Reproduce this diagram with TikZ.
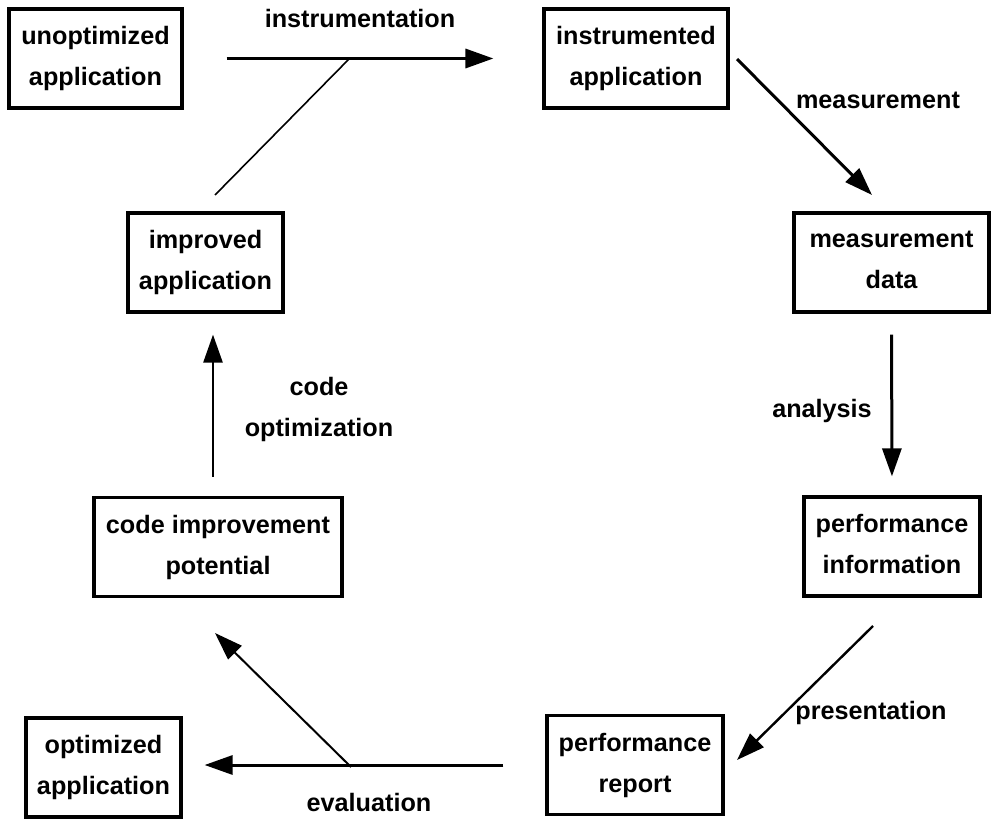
\documentclass[tikz,border=0pt]{standalone}
\usepackage{fontspec}
\setmainfont{Liberation Sans}
\usetikzlibrary{arrows.meta}

\tikzset{
	stage/.style={draw, line width=3.2pt, align=center, inner sep=0pt,
		font=\bfseries\fontsize{25.2}{41}\selectfont,
		execute at begin node={\rule{0pt}{34pt}},
		execute at end node={\rule[-5pt]{0pt}{5pt}}},
	flow/.style={line width=3pt, -{Triangle[length=28pt,width=19pt]}},
	thinflow/.style={line width=2pt, -{Triangle[length=28pt,width=19pt]}},
	feed/.style={line width=1.6pt},
	lbl/.style={font=\bfseries\fontsize{25.2}{41}\selectfont, inner sep=0pt}
}

\begin{document}
\begin{tikzpicture}[x=1pt,y=-1pt]
			\useasboundingbox (0,0) rectangle (995,826);
			% the stages of the cycle
			\node[stage, minimum width=173pt, minimum height=99pt] (unopt) at (95.5,58.5) {unoptimized\\application};
			\node[stage, minimum width=184pt, minimum height=99pt] (instr) at (636,58.5) {instrumented\\application};
			\node[stage, minimum width=195pt, minimum height=99pt] (measdata) at (891.5,262.5) {measurement\\data};
			\node[stage, minimum width=176pt, minimum height=99pt] (perfinfo) at (892,546.5) {performance\\information};
			\node[stage, minimum width=176pt, minimum height=99pt] (perfreport) at (635,765) {performance\\report};
			\node[stage, minimum width=155pt, minimum height=99pt] (optapp) at (103.5,767.5) {optimized\\application};
			\node[stage, minimum width=248pt, minimum height=99pt] (codeimp) at (218,547) {code improvement\\potential};
			\node[stage, minimum width=155pt, minimum height=99pt] (impapp) at (205.5,262.5) {improved\\application};

			% free ends of the slanted connectors
			\coordinate (joinin) at (350,58);
			\coordinate (feedstart) at (215,195);
			\coordinate (measstart) at (737,59);
			\coordinate (measend) at (872,195);
			\coordinate (presstart) at (873,626);
			\coordinate (presend) at (737,760);
			\coordinate (evaljoin) at (351,767);
			\coordinate (evalend) at (215,633);

			\draw[flow, line width=3.4pt, shorten <=43pt, shorten >=49pt] (unopt.east) -- (instr.west);
			\draw[feed] (feedstart) -- (joinin);
			\draw[flow] (measstart) -- (measend);
			\draw[flow, shorten <=21pt, shorten >=19pt] (measdata.south) -- (perfinfo.north);
			\draw[thinflow, line width=2.4pt] (presstart) -- (presend);
			\draw[flow, shorten <=42pt, shorten >=22pt] (perfreport.west) -- (optapp.east |- perfreport.west);
			\draw[thinflow] (evaljoin) -- (evalend);
			\draw[thinflow, line width=2.6pt, shorten <=19pt, shorten >=21pt] ([xshift=-5pt]codeimp.north) -- ([xshift=7.5pt]impapp.south);

			% labels
			\node[lbl, anchor=base] (instrlbl) at (360,28) {instrumentation};
			\node[lbl, anchor=base] (measlbl) at (878,109) {measurement};
			\node[lbl, anchor=base] (analysislbl) at (822,417) {analysis};
			\node[lbl, anchor=base] (preslbl) at (871,719) {presentation};
			\node[lbl, anchor=base] (evallbl) at (369,811) {evaluation};
			\node[lbl, align=center] (optlbl) at (319,409) {code\\optimization};
		\end{tikzpicture}
\end{document}
